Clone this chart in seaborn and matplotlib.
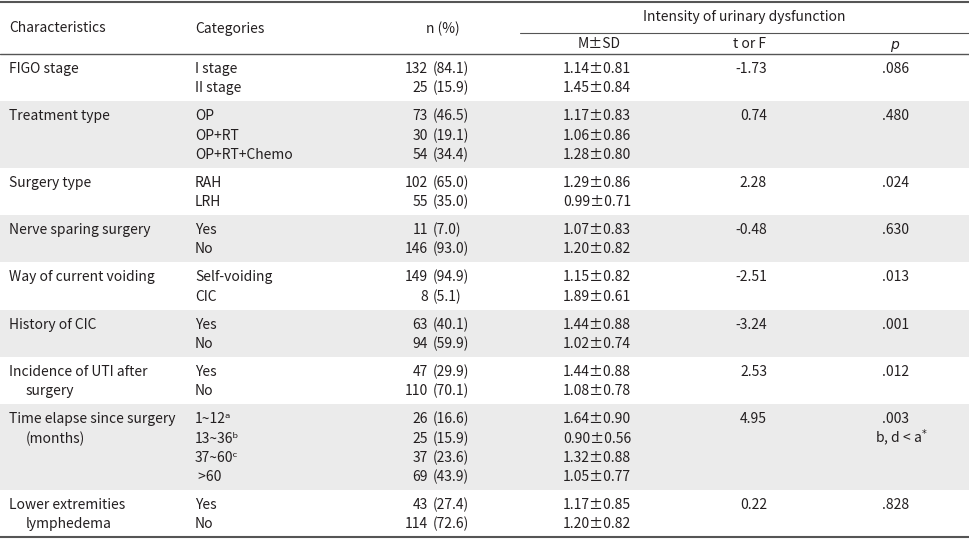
import matplotlib
matplotlib.use("Agg")
import matplotlib.pyplot as plt
import seaborn as sns

# table content
characteristics = [
    ["FIGO stage"],
    ["Treatment type"],
    ["Surgery type"],
    ["Nerve sparing surgery"],
    ["Way of current voiding"],
    ["History of CIC"],
    ["Incidence of UTI after", "surgery"],
    ["Time elapse since surgery", "(months)"],
    ["Lower extremities", "lymphedema"],
]
categories = [
    ["I stage", "II stage"],
    ["OP", "OP+RT", "OP+RT+Chemo"],
    ["RAH", "LRH"],
    ["Yes", "No"],
    ["Self-voiding", "CIC"],
    ["Yes", "No"],
    ["Yes", "No"],
    ["1~12ᵃ", "13~36ᵇ", "37~60ᶜ", " >60"],
    ["Yes", "No"],
]
n_counts = [
    [132, 25],
    [73, 30, 54],
    [102, 55],
    [11, 146],
    [149, 8],
    [63, 94],
    [47, 110],
    [26, 25, 37, 69],
    [43, 114],
]
n_pct = [
    ["84.1", "15.9"],
    ["46.5", "19.1", "34.4"],
    ["65.0", "35.0"],
    ["7.0", "93.0"],
    ["94.9", "5.1"],
    ["40.1", "59.9"],
    ["29.9", "70.1"],
    ["16.6", "15.9", "23.6", "43.9"],
    ["27.4", "72.6"],
]
m_sd = [
    ["1.14±0.81", "1.45±0.84"],
    ["1.17±0.83", "1.06±0.86", "1.28±0.80"],
    ["1.29±0.86", "0.99±0.71"],
    ["1.07±0.83", "1.20±0.82"],
    ["1.15±0.82", "1.89±0.61"],
    ["1.44±0.88", "1.02±0.74"],
    ["1.44±0.88", "1.08±0.78"],
    ["1.64±0.90", "0.90±0.56", "1.32±0.88", "1.05±0.77"],
    ["1.17±0.85", "1.20±0.82"],
]
t_or_f = ["-1.73", "0.74", "2.28", "-0.48", "-2.51", "-3.24", "2.53", "4.95", "0.22"]
p_vals = [".086", ".480", ".024", ".630", ".013", ".001", ".012", ".003", ".828"]
p_notes = [None, None, None, None, None, None, None, "b, d < a$^{*}$", None]

sns.set_theme(style="white")
plt.rcParams["font.family"] = ["Noto Sans CJK KR", "DejaVu Sans"]

ink = "#231f20"
shade = "#ebebeb"
rule = "#555555"
fs = 10

fig = plt.figure(figsize=(9.69, 5.39), dpi=100)
ax = fig.add_axes([0, 0, 1, 1])
ax.set_xlim(0, 969)
ax.set_ylim(539, 0)
ax.axis("off")

# header
ax.axhline(1.5, color=rule, lw=1.5)
ax.plot([520, 969], [33, 33], color=rule, lw=0.8)
ax.axhline(54, color=rule, lw=1.0)
ax.text(9, 28.5, "Characteristics", fontsize=fs, color=ink, va="center")
ax.text(195, 28.5, "Categories", fontsize=fs, color=ink, va="center")
ax.text(443, 28.5, "n (%)", fontsize=fs, color=ink, va="center", ha="center")
ax.text(744, 16.5, "Intensity of urinary dysfunction", fontsize=fs, color=ink,
        va="center", ha="center")
ax.text(599, 44.5, "M±SD", fontsize=fs, color=ink, va="center", ha="center")
ax.text(750, 44.5, "t or F", fontsize=fs, color=ink, va="center", ha="center")
ax.text(894, 44.5, "p", fontsize=fs, color=ink, va="center", ha="center",
        style="italic", family="DejaVu Sans")

pitch = 19.2
pad = 8.9
first = 15.0
top = 54
for i, cats in enumerate(categories):
    k = len(cats)
    h = k * pitch + pad
    if i % 2 == 1:
        ax.axhspan(top, top + h, color=shade, lw=0, zorder=0)
    y0 = top + first
    for j, line in enumerate(characteristics[i]):
        ax.text(9 if j == 0 else 26, y0 + j * pitch, line, fontsize=fs,
                color=ink, va="center")
    for j in range(k):
        y = y0 + j * pitch
        ax.text(195, y, cats[j], fontsize=fs, color=ink, va="center")
        ax.text(428, y, str(n_counts[i][j]), fontsize=fs, color=ink,
                va="center", ha="right")
        ax.text(433, y, f"({n_pct[i][j]})", fontsize=fs, color=ink,
                va="center", ha="left")
        ax.text(563, y, m_sd[i][j], fontsize=fs, color=ink, va="center")
    ax.text(767, y0, t_or_f[i], fontsize=fs, color=ink, va="center", ha="right")
    ax.text(909, y0, p_vals[i], fontsize=fs, color=ink, va="center", ha="right")
    if p_notes[i]:
        ax.text(875, y0 + pitch, p_notes[i], fontsize=fs, color=ink,
                va="center")
    top += h

ax.axhline(top, color=rule, lw=1.5)

fig.savefig("out.png", dpi=100)
